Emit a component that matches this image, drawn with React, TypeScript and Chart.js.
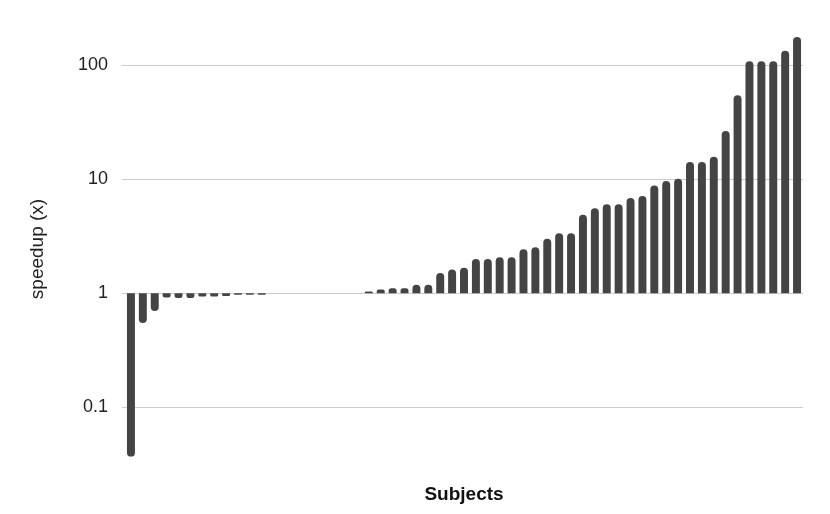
import React, { useEffect, useRef } from "react";
import { Chart, registerables } from "chart.js";

Chart.register(...registerables);

const speedup: number[] = [
  0.037, 0.55, 0.7, 0.92, 0.91, 0.91, 0.94, 0.94, 0.95, 0.97, 0.97, 0.97,
  1, 1, 1, 1, 1, 1, 1, 1,
  1.04, 1.08, 1.11, 1.11, 1.19, 1.19, 1.51, 1.62, 1.68, 2.0, 2.0, 2.07, 2.07,
  2.44, 2.54, 3.01, 3.37, 3.37, 4.9, 5.57, 6.04, 6.04, 6.87, 7.16, 8.81, 9.68,
  10.1, 14.2, 14.2, 15.8, 26.5, 54.7, 108.6, 108.6, 108.6, 134.5, 177,
];

const subjects: string[] = speedup.map((_, i) => `Subject ${i + 1}`);

const yTickValues: number[] = [0.1, 1, 10, 100];
const yTickLabels: string[] = ["0.1", "1", "10", "100"];
const baseline = 1;

const FONT = "'Liberation Sans', Arial, sans-serif";

export default function App() {
  const ref = useRef<HTMLCanvasElement | null>(null);

  useEffect(() => {
    document.body.style.margin = "0";
    const canvas = ref.current;
    if (!canvas) return;
    const chart = new Chart(canvas, {
      type: "bar",
      data: {
        labels: subjects,
        datasets: [
          {
            label: "speedup",
            data: speedup.map((v) => [baseline, v]) as any,
            backgroundColor: "#444444",
            borderWidth: 0,
            borderSkipped: false,
            borderRadius: (ctx: any) => {
              const v = speedup[ctx.dataIndex];
              return v >= baseline
                ? { topLeft: 4, topRight: 4, bottomLeft: 0, bottomRight: 0 }
                : { topLeft: 0, topRight: 0, bottomLeft: 4, bottomRight: 4 };
            },
            categoryPercentage: 1,
            barPercentage: 0.67,
          },
        ],
      },
      options: {
        responsive: false,
        animation: false,
        layout: { padding: { top: 31, right: 27, bottom: 0, left: 0 } },
        plugins: {
          legend: { display: false },
          tooltip: { enabled: false },
          title: { display: false },
        },
        scales: {
          x: {
            type: "category",
            grid: { display: false, drawTicks: false },
            border: { display: false },
            ticks: { display: false },
            title: {
              display: true,
              text: "Subjects",
              color: "#111111",
              font: { family: FONT, size: 19, weight: "bold" },
              padding: { top: 16.6, bottom: 7.6 },
            },
          },
          y: {
            type: "logarithmic",
            min: 0.03,
            max: 200,
            afterFit: (scale: any) => {
              scale.width = 125;
            },
            afterBuildTicks: (scale: any) => {
              scale.ticks = yTickValues.map((v) => ({ value: v }));
            },
            grid: {
              color: "#cccccc",
              lineWidth: 1,
              drawTicks: true,
              tickLength: 3,
            },
            border: { display: false },
            ticks: {
              color: "#222222",
              padding: 14,
              font: { family: FONT, size: 18 },
              callback: (value: any) => {
                const idx = yTickValues.indexOf(Number(value));
                return idx >= 0 ? yTickLabels[idx] : "";
              },
            },
            title: {
              display: true,
              text: "speedup (x)",
              color: "#222222",
              font: { family: FONT, size: 19 },
              padding: { top: 26.1, bottom: 4 },
            },
          },
        },
      },
    });
    return () => chart.destroy();
  }, []);

  return (
    <div style={{ width: 830, height: 514 }}>
      <canvas ref={ref} width={830} height={514} style={{ display: "block" }} />
    </div>
  );
}
